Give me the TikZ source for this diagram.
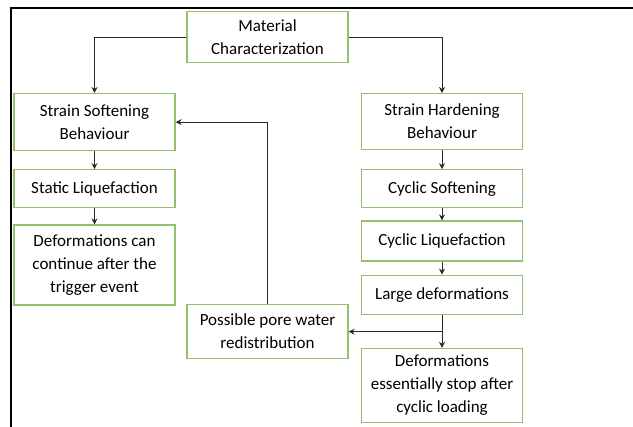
\documentclass[tikz,border=0pt]{standalone}
\usepackage{fontspec}
\setmainfont{Carlito}
\usetikzlibrary{positioning,arrows.meta}
\definecolor{boxgreen}{RGB}{146,192,108}
\definecolor{linegray}{RGB}{40,40,40}

\begin{document}
\begin{tikzpicture}[
    x=0.5pt, y=-0.5pt,
    node distance=9.5pt,
    box/.style={draw=boxgreen, line width=0.6pt, align=center, minimum width=80.5pt,
      inner sep=1.5pt, font=\fontsize{8.5}{11.5}\selectfont},
    arrow/.style={-{Stealth[length=3pt,width=3pt]}, line width=0.5pt, draw=linegray}
  ]
    \useasboundingbox (0,0) rectangle (633,427);
    \draw[line width=1pt] (11,427) -- (11,8) -- (633,8);

    \node[box, minimum height=25.5pt, anchor=north] (mat) at (267.5,11) {Material\\Characterization};
    \node[box, minimum height=28.5pt, anchor=north] (soft) at (94.5,93) {Strain Softening\\Behaviour};
    \node[box, minimum height=19pt, below=9pt of soft] (static) {Static Liquefaction};
    \node[box, minimum height=40pt, below=8pt of static] (cont) {Deformations can\\continue after the\\trigger event};
    \node[box, minimum height=28pt, anchor=north] (hard) at (442,93) {Strain Hardening\\Behaviour};
    \node[box, minimum height=19pt, below=9.5pt of hard] (cycsoft) {Cyclic Softening};
    \node[box, minimum height=20pt, below=6pt of cycsoft] (cycliq) {Cyclic Liquefaction};
    \node[box, minimum height=19.5pt, below=6.5pt of cycliq] (large) {Large deformations};
    \node[box, minimum height=37pt, below=16.5pt of large] (stop) {Deformations\\essentially stop after\\cyclic loading};
    \node[box, minimum height=27pt, anchor=north] (pore) at (267.5,304) {Possible pore water\\redistribution};

    \draw[arrow] (mat.west) -| (soft.north);
    \draw[arrow] (mat.east) -| (hard.north);
    \draw[arrow] (soft) -- (static);
    \draw[arrow] (static) -- (cont);
    \draw[arrow] (hard) -- (cycsoft);
    \draw[arrow] (cycsoft) -- (cycliq);
    \draw[arrow] (cycliq) -- (large);
    \draw[arrow] (large) -- (stop);
    \draw[arrow] (large.south |- pore.east) -- (pore.east);
    \draw[arrow] (pore.north) |- (soft.east);
  \end{tikzpicture}
\end{document}
